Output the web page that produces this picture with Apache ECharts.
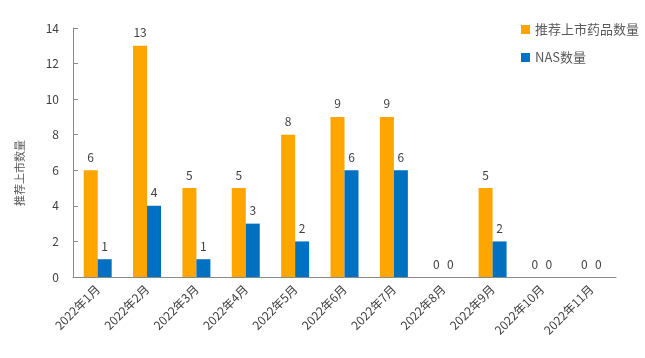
<!DOCTYPE html>
<html><head><meta charset="utf-8">
<script src="https://cdn.jsdelivr.net/npm/echarts@6/dist/echarts.min.js"></script>
<style>html,body{margin:0;padding:0;background:#fff}#c{width:645px;height:358px}</style>
</head><body><div id="c"></div>
<script>
const categories = ['2022年1月','2022年2月','2022年3月','2022年4月','2022年5月','2022年6月','2022年7月','2022年8月','2022年9月','2022年10月','2022年11月'];
const recommended = [6,13,5,5,8,9,9,0,5,0,0];
const nas = [1,4,1,3,2,6,6,0,2,0,0];
const seriesNames = ['推荐上市药品数量','NAS数量'];
const yAxisTitle = '推荐上市数量';
const yTicks = {min:0, max:14, interval:2};

const font = '"Microsoft YaHei","Noto Sans CJK SC",sans-serif';
const chart = echarts.init(document.getElementById('c'));
chart.setOption({
  animation:false,
  textStyle:{fontFamily:font},
  grid:{left:73,right:29,top:28,bottom:81},
  legend:{orient:'vertical',right:1,top:18,itemWidth:9,itemHeight:9,itemGap:15,icon:'rect',
    textStyle:{color:'#595959',fontSize:13,fontFamily:font}, data:seriesNames},
  graphic:[{type:'text',left:14,top:140,rotation:Math.PI/2,
    style:{text:yAxisTitle,fill:'#595959',font:'11px '+font}}],
  xAxis:{type:'category',data:categories,
    axisLine:{lineStyle:{color:'#898989'}},
    axisTick:{inside:true,length:5,lineStyle:{color:'#898989'}},
    axisLabel:{rotate:45,interval:0,color:'#404040',fontSize:12,margin:10}},
  yAxis:{type:'value',min:yTicks.min,max:yTicks.max,interval:yTicks.interval,
    axisLine:{show:true,lineStyle:{color:'#898989'}},
    axisTick:{show:true,inside:true,length:5,lineStyle:{color:'#898989'}},
    splitLine:{show:false},
    axisLabel:{color:'#404040',fontSize:12,margin:14}},
  series:[
    {name:seriesNames[0],type:'bar',data:recommended,barWidth:14,barGap:'0%',
     itemStyle:{color:'#FFA500'},
     label:{show:true,position:'top',color:'#404040',fontSize:12,distance:7}},
    {name:seriesNames[1],type:'bar',data:nas,barWidth:14,
     itemStyle:{color:'#0070C0'},
     label:{show:true,position:'top',color:'#404040',fontSize:12,distance:7}}
  ]
});
</script></body></html>
